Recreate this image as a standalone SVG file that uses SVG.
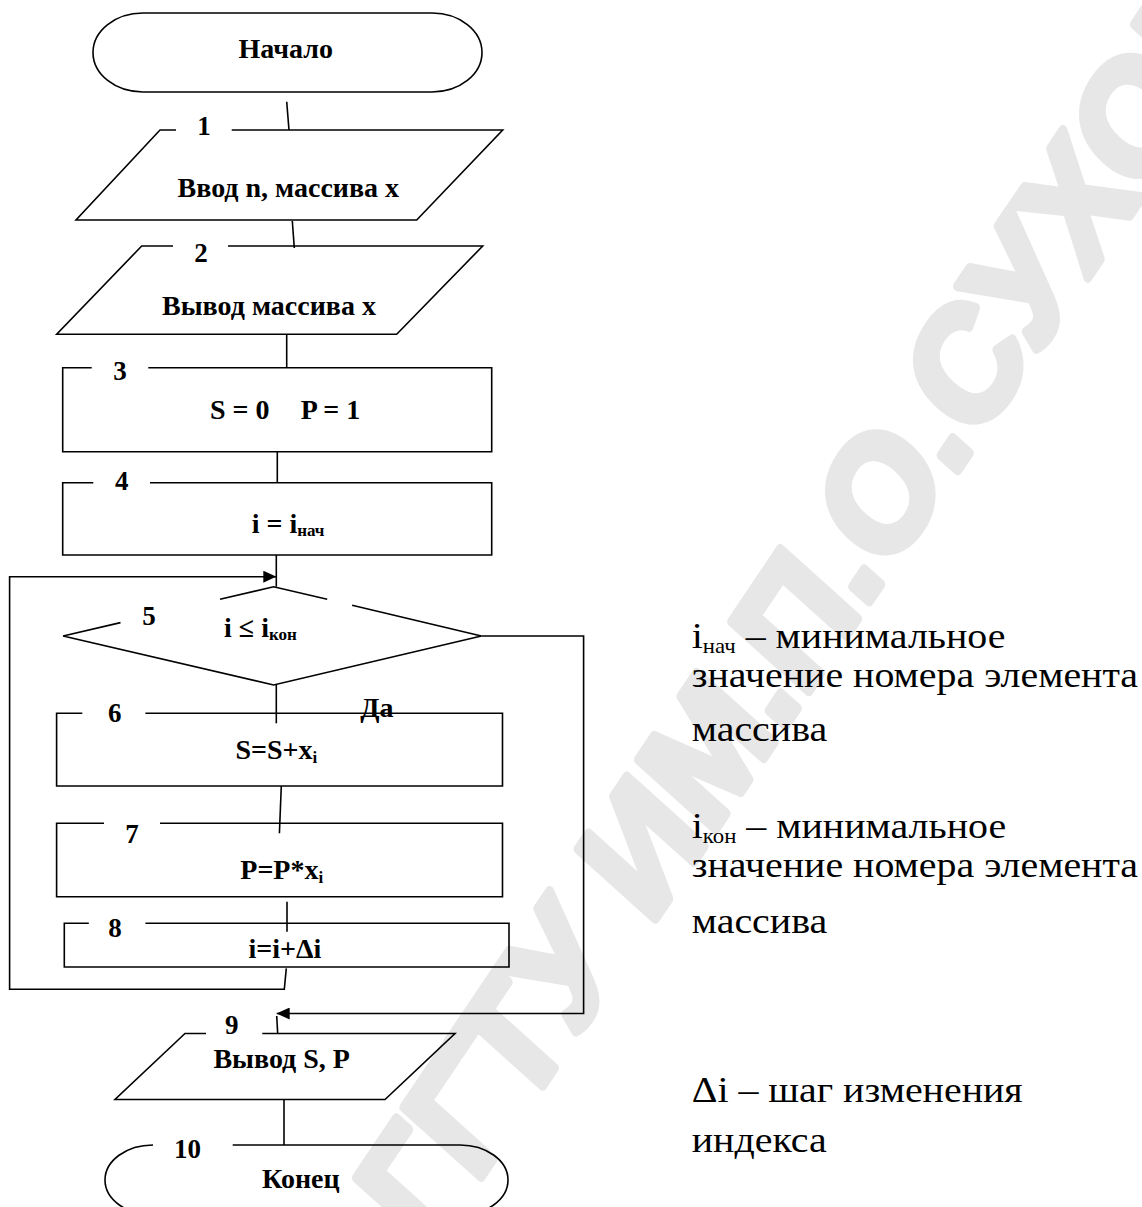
<svg xmlns="http://www.w3.org/2000/svg" width="1142" height="1207" viewBox="0 0 1142 1207">
<style>
.s{fill:none;stroke:#000;stroke-width:1.6}
.t{font-family:"Liberation Serif","Times New Roman",serif;font-weight:bold;font-size:28px;fill:#000}
.c{text-anchor:middle}
.n{font-family:"Liberation Serif","Times New Roman",serif;font-weight:bold;font-size:27px;fill:#000;text-anchor:middle}
.r{font-family:"Liberation Serif","Times New Roman",serif;font-size:35px;fill:#000}
.wm{font-family:"Liberation Sans",Arial,sans-serif;font-weight:bold;font-size:150px;fill:#e7e7e7;stroke:#e7e7e7;stroke-width:9;stroke-linejoin:round}
</style>
<defs>
<marker id="ah" markerUnits="userSpaceOnUse" markerWidth="13" markerHeight="12" viewBox="0 0 13 12" refX="13" refY="6" orient="auto">
<path d="M0,0 L13,6 L0,12 z" fill="#000"/>
</marker>
</defs>
<rect width="1142" height="1207" fill="#fff"/>
<g id="watermark">
<text class="wm" transform="translate(428,1256) rotate(-56) skewX(-8)">ГГТУ ИМ.П.О.СУХОГО</text>
</g>
<g id="connectors">
<line class="s" x1="286.7" y1="101.7" x2="289" y2="130"/>
<line class="s" x1="292.3" y1="221" x2="294.3" y2="248"/>
<line class="s" x1="286.7" y1="334.3" x2="286.7" y2="367.7"/>
<line class="s" x1="277.3" y1="451.7" x2="277.3" y2="482.7"/>
<line class="s" x1="276.3" y1="555" x2="276.3" y2="586.7"/>
<polyline class="s" points="286.3,968.3 284.3,989.3 9.6,989.3 9.6,576.7 276.3,576.7" marker-end="url(#ah)"/>
<line class="s" x1="276.3" y1="685" x2="276.3" y2="723.3"/>
<line class="s" x1="281.3" y1="786" x2="279.4" y2="833.3"/>
<line class="s" x1="287" y1="901.7" x2="287" y2="931.7"/>
<polyline class="s" points="481.4,636 583.6,636 583.6,1013.5 276.7,1013.5" marker-end="url(#ah)"/>
<line class="s" x1="276.7" y1="1016" x2="277.7" y2="1033.5"/>
<line class="s" x1="284" y1="1099.5" x2="284" y2="1145"/>
<text class="t c" x="377" y="716.7">Да</text>
</g>
<g id="n-start">
<rect class="s" x="93" y="13" width="389" height="79" rx="50" ry="39.5"/>
<text class="t c" x="285.8" y="58.3">Начало</text>
</g>
<g id="n1">
<path class="s" d="M176,130 L160,130 L76,220 L416.7,220 L502.7,130 L231.7,130"/>
<text class="n" x="204" y="135">1</text>
<text class="t c" x="288.3" y="196.7">Ввод n, массива x</text>
</g>
<g id="n2">
<path class="s" d="M173,246 L141.7,246 L56.7,334.3 L396.7,334.3 L482.7,246 L228,246"/>
<text class="n" x="201" y="262">2</text>
<text class="t c" x="269" y="315">Вывод массива x</text>
</g>
<g id="n3">
<path class="s" d="M91.7,367.7 H62.7 V451.7 H491.7 V367.7 H148.3"/>
<text class="n" x="120" y="380">3</text>
<text class="t" x="210" y="419.3">S = 0</text>
<text class="t" x="300.7" y="419.3">P = 1</text>
</g>
<g id="n4">
<path class="s" d="M93.3,482.7 H62.7 V555 H491.7 V482.7 H150"/>
<text class="n" x="121.7" y="490">4</text>
<text class="t" x="251.7" y="533.3">i = i<tspan font-size="17" dy="3">нач</tspan></text>
</g>
<g id="n5">
<path class="s" d="M120.5,622.6 L63.1,636 L273.6,685 L481.4,636 L352.1,605.3 M327.2,599.3 L273.6,586.7 L220,599.3"/>
<text class="n" x="149" y="625">5</text>
<text class="t" x="224" y="636.7">i ≤ i<tspan font-size="17" dy="3">кон</tspan></text>
</g>
<g id="n6">
<path class="s" d="M82.3,713.3 H56.6 V786 H502.5 V713.3 H145.4"/>
<text class="n" x="114.8" y="722.3">6</text>
<text class="t" x="235.4" y="759.3">S=S+x<tspan font-size="17" dy="4">i</tspan></text>
</g>
<g id="n7">
<path class="s" d="M104,823.3 H56.6 V896.7 H502.5 V823.3 H160"/>
<text class="n" x="132" y="843.3">7</text>
<text class="t" x="240.3" y="879.3">P=P*x<tspan font-size="17" dy="4">i</tspan></text>
</g>
<g id="n8">
<path class="s" d="M88.8,923.3 H64.3 V967 H509 V923.3 H145.4"/>
<text class="n" x="115" y="937">8</text>
<text class="t c" x="285" y="958.3">i=i+Δi</text>
</g>
<g id="n9">
<path class="s" d="M206,1033.5 H185 L115,1099.5 H385 L455,1033.5 H262.3"/>
<text class="n" x="231.7" y="1034.3">9</text>
<text class="t c" x="281.7" y="1068.3">Вывод S, P</text>
</g>
<g id="n10">
<path class="s" d="M232.7,1145 H460 A48 35 0 0 1 460 1215 H153 A48 35 0 0 1 153 1145"/>
<text class="n" x="187.5" y="1158">10</text>
<text class="t c" x="300.8" y="1188.3">Конец</text>
</g>
<g id="notes" transform="scale(1.14,1)">
<text class="r" x="606.8" y="648.3">i<tspan font-size="20" dy="5">нач</tspan><tspan dy="-5"> – минимальное</tspan></text>
<text class="r" x="606.8" y="686.7">значение номера элемента</text>
<text class="r" x="606.8" y="741">массива</text>
<text class="r" x="606.8" y="838">i<tspan font-size="20" dy="5">кон</tspan><tspan dy="-5"> – минимальное</tspan></text>
<text class="r" x="606.8" y="876.7">значение номера элемента</text>
<text class="r" x="606.8" y="933">массива</text>
<text class="r" x="606.8" y="1101.7">Δi – шаг изменения</text>
<text class="r" x="606.8" y="1152">индекса</text>
</g>
</svg>
